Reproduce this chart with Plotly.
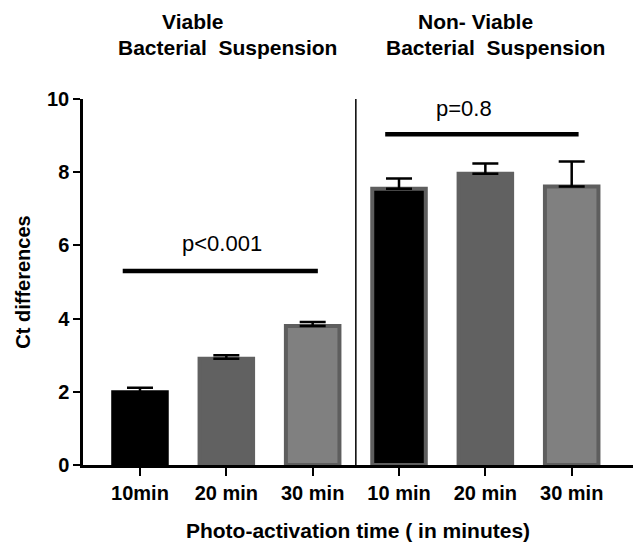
import plotly.graph_objects as go

# Data
categories = ["10min", "20 min", "30 min", "10 min", "20 min", "30 min"]
positions = [0, 1, 2, 3, 4, 5]
ct_values = [1.99, 2.90, 3.80, 7.55, 7.96, 7.61]
err_plus = [0.12, 0.10, 0.11, 0.28, 0.28, 0.68]
fill_colors = ["#000000", "#616161", "#808080", "#000000", "#616161", "#808080"]
line_colors = ["#000000", "#616161", "#5e5e5e", "#5e5e5e", "#616161", "#5e5e5e"]
y_ticks = [0, 2, 4, 6, 8, 10]

group_titles = [("Viable", "Bacterial  Suspension"), ("Non- Viable", "Bacterial  Suspension")]
sig_left = {"x0": -0.2, "x1": 2.06, "y": 5.3, "label": "p<0.001", "lx": 0.95, "ly": 6.05}
sig_right = {"x0": 2.84, "x1": 5.08, "y": 9.04, "label": "p=0.8", "lx": 3.75, "ly": 9.75}
divider_x = 2.5

FONT = "Liberation Sans, Arial, sans-serif"
W, H = 635, 543
ML, MR, MT, MB = 83, 2, 99, 78

def px_to_paper(xp, yp):
    return (xp - ML) / (W - ML - MR), (H - MB - yp) / (H - MT - MB)

fig = go.Figure()
fig.add_trace(go.Bar(
    x=positions, y=ct_values, width=0.62,
    marker=dict(color=fill_colors, line=dict(color=line_colors, width=4)),
    error_y=dict(type="data", array=err_plus, symmetric=False, arrayminus=[0]*6,
                 color="black", thickness=2.5, width=13),
    showlegend=False,
))

shapes = []
shapes.append(dict(type="line", xref="x", yref="y", x0=divider_x, x1=divider_x, y0=0, y1=10,
                   line=dict(color="black", width=1.5)))
for s in (sig_left, sig_right):
    shapes.append(dict(type="line", xref="x", yref="y", x0=s["x0"], x1=s["x1"], y0=s["y"], y1=s["y"],
                       line=dict(color="black", width=4.5)))

annotations = []
for s in (sig_left, sig_right):
    annotations.append(dict(x=s["lx"], y=s["ly"], xref="x", yref="y", text=s["label"], showarrow=False,
                            font=dict(family=FONT, size=22, color="black")))

# Group titles (figure pixel positions converted to paper)
title_pos = [((192, 21), (227, 48)), ((475, 21), (495, 48))]
for (t1, t2), (p1, p2) in zip(group_titles, title_pos):
    for t, p in ((t1, p1), (t2, p2)):
        xp, yp = px_to_paper(*p)
        annotations.append(dict(x=xp, y=yp, xref="paper", yref="paper", text=f"<b>{t}</b>",
                                showarrow=False, font=dict(family=FONT, size=21, color="black"),
                                xanchor="center", yanchor="middle"))

fig.update_layout(
    width=W, height=H,
    margin=dict(l=ML, r=MR, t=MT, b=MB),
    paper_bgcolor="white", plot_bgcolor="white",
    shapes=shapes, annotations=annotations,
    xaxis=dict(range=[-0.66, 5.71], tickvals=positions, ticktext=[f"<b>{c}</b>" for c in categories],
               showline=True, linecolor="black", linewidth=2.5, ticks="outside", ticklen=8,
               tickwidth=2, tickcolor="black", showgrid=False, zeroline=False,
               tickfont=dict(family=FONT, size=20, color="black"),
               title=dict(text="<b>Photo-activation time ( in minutes)</b>", standoff=21,
                          font=dict(family=FONT, size=21, color="black"))),
    yaxis=dict(range=[0, 10], tickvals=y_ticks, ticktext=[f"<b>{v}</b>" for v in y_ticks],
               showline=True, linecolor="black", linewidth=2.5, ticks="outside", ticklen=7,
               tickwidth=2, tickcolor="black", showgrid=False, zeroline=False,
               tickfont=dict(family=FONT, size=20, color="black"),
               title=dict(text="<b>Ct differences</b>", standoff=12,
                          font=dict(family=FONT, size=20, color="black"))),
)

fig.write_html("out.html", config={"displayModeBar": False},
               post_script="document.body.style.margin='0';")
